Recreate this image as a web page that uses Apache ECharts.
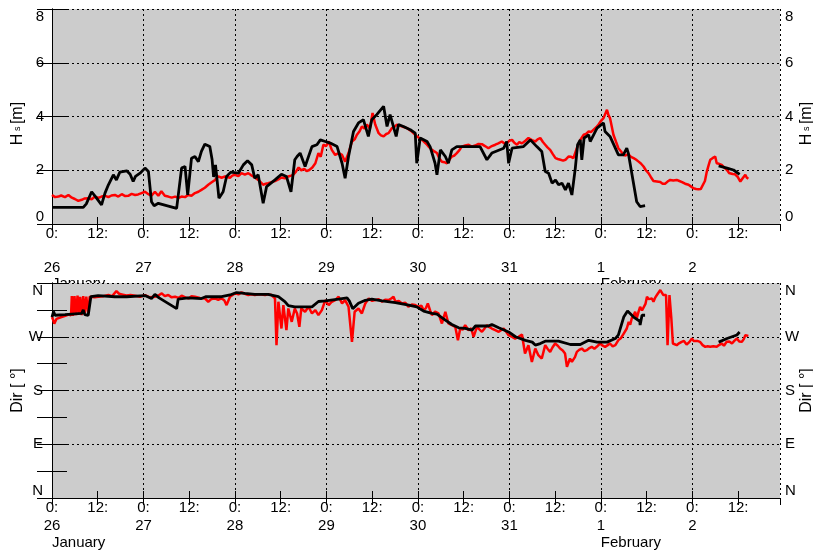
<!DOCTYPE html>
<html><head><meta charset="utf-8">
<script src="https://cdn.jsdelivr.net/npm/echarts@6/dist/echarts.min.js"></script>
<style>html,body{margin:0;padding:0;background:#fff}#c{width:813px;height:554px}</style>
</head><body><div id="c"></div>
<script>
// hours since 26 January 00:00
const dayLabels = ['26','27','28','29','30','31','1','2'];
const monthLabels = ['January','February'];
const monthStartHours = [0,144];
const dirLabels = {0:'N',90:'E',180:'S',270:'W',360:'N'};

const hsModel = [[0,1.08],[0.8,1.0],[1.7,1.02],[2.4,1.06],[3.4,1.0],[4.3,1.08],[5.2,0.98],[6.0,0.93],[6.9,0.86],[7.8,0.9],[8.6,0.95],[9.5,0.96],[10.4,0.92],[11.3,1.02],[12.2,0.97],[13.0,1.02],[14.0,1.05],[14.8,1.0],[15.6,1.06],[16.5,1.08],[17.4,1.02],[18.3,1.11],[19.2,1.04],[20.0,1.05],[20.9,1.12],[21.8,1.08],[22.6,1.1],[23.5,1.15],[24.4,1.2],[25.3,1.11],[26.1,1.05],[27.0,1.2],[27.9,1.05],[28.7,1.22],[29.6,1.05],[30.5,1.02],[31.4,0.98],[32.3,1.02],[33.2,0.97],[34.0,1.02],[34.9,1.0],[35.7,1.08],[36.6,1.05],[37.5,1.15],[38.4,1.2],[39.2,1.27],[40.1,1.35],[41.0,1.46],[41.9,1.55],[42.8,1.64],[43.6,1.77],[44.5,1.72],[45.4,1.77],[46.7,1.72],[47.3,1.8],[48.0,1.83],[48.9,1.78],[49.7,1.89],[50.6,1.84],[51.5,1.89],[52.2,1.82],[52.8,1.77],[53.5,1.7],[54.1,1.64],[54.8,1.55],[55.4,1.46],[56.1,1.5],[56.7,1.52],[57.6,1.56],[58.5,1.6],[59.4,1.66],[60.2,1.73],[61.1,1.7],[62.0,1.77],[62.7,1.8],[63.3,1.83],[64.0,1.95],[64.7,2.1],[65.4,2.0],[66.2,2.05],[66.8,1.97],[67.5,2.01],[68.3,2.1],[69.1,2.26],[69.9,2.64],[70.5,2.5],[71.2,2.95],[71.9,2.9],[72.6,3.07],[73.4,2.76],[74.3,2.57],[75.2,2.64],[76.1,2.57],[76.9,2.32],[77.8,2.64],[78.7,3.07],[79.4,3.15],[80.0,3.32],[80.7,3.45],[81.3,3.63],[82.0,3.55],[82.6,3.7],[83.4,3.55],[84.1,4.13],[84.8,3.7],[85.7,3.38],[86.3,3.3],[87.0,3.26],[87.7,3.35],[88.3,3.38],[89.2,3.57],[89.9,3.62],[90.5,3.7],[91.2,3.66],[91.8,3.63],[92.5,3.6],[93.1,3.57],[93.8,3.5],[94.4,3.44],[95.1,3.35],[95.7,3.26],[96.4,3.2],[97.1,3.13],[97.7,3.05],[98.4,2.95],[99.0,2.85],[99.7,2.76],[100.3,2.7],[101.0,2.64],[101.6,2.45],[102.3,2.32],[103.0,2.3],[103.6,2.26],[104.3,2.4],[104.9,2.51],[105.6,2.55],[106.2,2.64],[106.9,2.75],[107.5,2.88],[108.4,2.92],[109.3,2.95],[110.1,2.88],[111.0,2.92],[111.9,2.98],[112.8,2.97],[113.6,2.9],[114.5,2.82],[115.4,2.9],[116.3,2.95],[117.1,3.0],[118.0,3.07],[118.7,3.0],[119.3,3.0],[120.0,3.1],[120.7,3.13],[121.3,3.02],[122.0,2.95],[122.6,3.05],[123.3,3.0],[124.2,3.1],[125.0,3.2],[125.9,3.12],[126.8,3.07],[127.4,3.15],[128.1,3.2],[128.8,3.05],[129.4,2.95],[130.0,2.85],[130.7,2.76],[131.4,2.6],[132.1,2.45],[132.7,2.42],[133.4,2.39],[134.1,2.36],[134.7,2.39],[135.5,2.51],[136.2,2.5],[136.8,2.45],[137.7,2.82],[138.6,3.13],[139.5,3.32],[140.1,3.35],[140.8,3.44],[141.4,3.42],[142.1,3.51],[142.8,3.6],[143.4,3.7],[144.1,3.85],[144.7,3.94],[145.6,4.25],[146.0,4.05],[146.4,3.94],[146.9,3.6],[147.3,3.32],[148.0,3.05],[148.6,2.82],[149.3,2.7],[149.9,2.57],[150.5,2.55],[151.2,2.6],[151.9,2.5],[152.6,2.45],[153.2,2.4],[153.9,2.32],[154.5,2.25],[155.2,2.14],[155.8,2.0],[156.5,1.89],[157.1,1.75],[157.8,1.6],[158.7,1.58],[159.6,1.56],[160.2,1.5],[160.9,1.5],[161.5,1.58],[162.2,1.64],[163.0,1.62],[163.9,1.64],[164.6,1.6],[165.3,1.56],[166.1,1.5],[167.0,1.46],[167.6,1.4],[168.3,1.33],[169.0,1.3],[169.6,1.29],[170.2,1.3],[170.7,1.33],[171.3,1.6],[171.8,1.95],[172.3,2.2],[172.7,2.39],[173.3,2.45],[174.0,2.51],[174.4,2.26],[175.0,2.24],[175.7,2.2],[176.4,2.1],[177.1,2.01],[177.6,1.9],[178.0,1.83],[178.6,1.86],[179.2,1.85],[179.9,1.75],[180.6,1.58],[181.2,1.7],[181.9,1.83],[182.3,1.72],[182.7,1.68]];

const hsObs = [[0,0.62],[8.2,0.62],[9.0,0.75],[10.4,1.2],[11.5,1.0],[13.0,0.71],[13.9,1.15],[14.8,1.46],[16.1,1.83],[16.9,1.64],[17.8,1.93],[19.6,1.98],[20.5,1.85],[21.3,1.58],[21.9,1.77],[23.1,1.89],[24.4,2.08],[25.3,1.95],[26.1,0.83],[26.8,0.68],[27.9,0.77],[32.7,0.58],[34.0,2.08],[34.9,2.14],[35.6,1.08],[36.6,2.45],[37.5,2.51],[38.4,2.32],[39.2,2.7],[40.1,2.97],[41.4,2.88],[42.0,2.4],[42.4,1.75],[42.9,2.2],[43.8,0.96],[44.9,1.2],[45.8,1.77],[46.9,1.93],[48.9,1.89],[50.2,2.2],[51.3,2.35],[52.4,2.2],[53.2,1.7],[54.1,1.83],[55.4,0.77],[56.3,1.39],[58.5,1.64],[60.2,1.85],[61.5,1.77],[62.7,1.2],[63.2,1.2],[63.7,2.39],[64.3,2.51],[65.1,2.64],[66.4,2.14],[68.2,2.88],[69.5,2.95],[70.4,3.13],[71.7,3.07],[73.0,3.01],[74.8,2.88],[76.1,2.26],[76.9,1.7],[77.8,2.51],[79.1,3.44],[80.4,3.76],[81.7,3.88],[83.0,3.26],[83.9,3.88],[85.2,4.07],[87.0,4.38],[87.9,3.63],[88.7,4.07],[90.3,3.26],[90.9,3.7],[92.2,3.63],[94.0,3.51],[95.3,3.38],[95.7,2.26],[96.6,3.2],[98.4,3.07],[99.2,2.88],[100.5,2.26],[101.0,1.83],[101.9,2.76],[103.2,2.51],[104.0,2.26],[104.9,2.76],[106.2,2.88],[109.7,2.88],[112.3,2.88],[114.1,2.39],[115.4,2.64],[118.5,2.82],[119.3,3.07],[119.8,2.26],[120.7,2.82],[123.7,2.88],[125.5,3.13],[127.2,2.88],[128.5,2.7],[129.4,1.95],[130.3,1.89],[131.2,1.52],[132.1,1.64],[132.9,1.46],[133.8,1.52],[134.7,1.27],[135.5,1.52],[136.4,1.08],[137.3,2.08],[137.9,2.95],[138.6,3.13],[139.0,2.39],[139.6,3.2],[140.8,3.32],[141.2,3.07],[142.1,3.32],[143.0,3.57],[144.7,3.76],[145.1,3.44],[146.4,3.26],[148.6,2.57],[149.9,2.57],[150.8,2.82],[151.2,2.64],[151.7,2.57],[153.4,0.83],[154.3,0.65],[154.8,0.72],[155.6,0.68],[165,null],[174.9,2.16],[177.1,2.08],[178.8,2.01],[180.4,1.85]];

const dirModel = [[0,303],[0.3,298],[0.6,292],[1.2,300],[2.5,303],[3.5,305],[4.3,307],[5.0,306],[5.2,338],[5.5,305],[5.9,338],[6.3,306],[6.7,339],[7.1,308],[7.4,337],[7.8,306],[8.2,338],[8.6,309],[9.0,337],[9.5,310],[9.9,337],[10.4,338.7],[11.2,336],[12.1,337],[13.5,338],[14.8,339.8],[15.8,338],[16.9,346.5],[17.6,342],[18.3,341],[19.5,339],[20.6,340],[21.8,338.7],[23.1,337],[24.4,339.8],[25.7,336],[27.0,337],[27.9,339],[28.8,342.6],[29.6,338],[30.5,339.8],[31.4,336],[32.3,337],[33.2,335],[34.0,338.7],[35.0,336],[35.8,334.2],[36.6,338],[37.5,337],[38.8,335],[40.1,334.2],[41.0,328.6],[41.8,333],[42.7,334.2],[43.6,332],[44.5,334.2],[45.2,331],[45.8,323],[46.7,337],[47.4,340],[48.0,342.6],[48.9,341],[49.7,344.3],[50.6,342],[51.5,339.8],[52.3,341],[53.2,339.8],[54.5,341],[55.9,339.8],[56.8,341],[57.6,339.8],[58.5,334.2],[58.9,255.9],[59.4,328.6],[60.2,283.8],[60.7,323],[61.5,281],[62.0,317.4],[62.9,295],[63.7,317.4],[64.3,309],[64.9,286.6],[65.4,317.4],[66.4,311.8],[67.3,320.2],[68.2,309],[69.1,314.6],[69.9,306.2],[70.8,314.6],[71.7,331.4],[72.6,323],[73.4,328.6],[74.3,331.4],[75.2,337],[76.1,325.8],[76.9,331.4],[77.8,320.2],[78.7,261.5],[79.4,311.8],[80.4,317.4],[81.3,309],[82.2,325.8],[83.1,334.2],[84.0,330],[84.8,331.4],[85.7,333],[86.6,328.6],[87.4,332],[88.3,331.4],[89.0,334],[89.6,337],[90.1,328.6],[91.0,330],[91.8,325.8],[92.7,327],[93.5,320.2],[94.4,324],[95.3,323],[96.2,320.2],[96.9,322],[97.5,314.6],[98.1,318],[98.6,325.8],[99.2,314],[99.7,306.2],[100.5,312],[101.4,309],[102.3,292.2],[103.2,311.8],[104.0,292.2],[104.9,289.4],[105.8,286.6],[106.5,264.3],[107.1,283.8],[107.8,282],[108.4,289.4],[109.3,281],[110.0,284],[110.6,269.8],[111.5,286.6],[112.2,282],[112.8,278.2],[113.5,284],[114.1,289.4],[114.8,286],[115.4,283.8],[116.3,281],[117.2,278.2],[117.8,281],[118.5,283.8],[119.2,278],[119.8,272.6],[120.6,270],[121.5,267],[122.4,270],[123.3,273.8],[124.1,241.9],[125.0,255.9],[125.9,227.9],[126.8,250.3],[127.6,239.1],[128.5,233.5],[129.4,255.9],[130.0,250],[130.7,244.7],[131.3,252],[132.0,258.7],[132.7,255],[133.3,250.3],[134.0,247],[134.6,241.9],[135.1,219.5],[135.9,233.5],[136.4,228],[136.8,225.1],[137.2,236],[137.7,244.7],[138.3,248],[139.0,250.3],[139.7,246],[140.3,247.5],[141.0,251],[141.6,253.1],[142.3,250],[142.9,253.1],[143.8,258.7],[144.5,255],[145.1,253.1],[145.8,256],[146.4,258.7],[147.1,254],[147.8,255.9],[148.6,264.3],[149.3,268],[150.0,275.4],[150.8,283.8],[151.3,295],[151.7,290],[152.1,300.6],[152.6,306],[153.0,311.8],[153.4,300.6],[153.9,312],[154.3,320.2],[154.8,314],[155.2,311.8],[155.7,325],[156.1,337],[156.5,333],[156.9,331.4],[157.4,334],[157.8,328.6],[158.3,336],[158.7,339.8],[159.2,342],[159.6,348.2],[160.0,344],[160.4,339.8],[160.9,342.6],[161.1,339.8],[161.5,255.9],[162.0,339.8],[162.5,300],[162.9,258.7],[163.4,262],[163.9,255.9],[164.5,259],[165.2,261.5],[165.8,263],[166.5,257],[167.2,261],[167.9,267],[168.3,263],[168.7,261.5],[169.3,263],[170.0,261.5],[170.7,256],[171.4,253.1],[172.0,254],[172.7,253.1],[173.5,254],[174.4,253.1],[175.0,256],[175.7,258.7],[176.3,255],[177.0,261.5],[177.7,262],[178.4,258.7],[179.0,263],[179.7,267],[180.3,262],[181.0,261.5],[181.5,266],[181.9,272.6],[182.3,270],[182.7,271.5]];

const dirObs = [[0,303],[0.4,312],[0.8,306],[3.4,307],[7.8,309],[8.2,315],[8.6,307],[9.5,306],[10.2,337],[12.1,339],[16.5,337],[19.6,337],[24.4,339],[26.1,334],[27.0,341],[28.1,335],[32.7,317],[33.1,333],[35.7,335],[39.2,334],[40.3,337],[44.5,337],[45.0,335],[46.7,340],[48.4,344],[50.6,342.5],[53.2,341],[56.7,341],[59.4,337],[61.1,329],[62.0,322],[63.7,320],[68.2,320],[69.9,329],[71.7,330],[75.2,333],[77.4,335],[78.0,330],[78.9,317],[80.4,326],[82.2,331],[83.9,333],[86.6,330],[90.1,327],[93.6,323],[95.7,320],[97.5,313],[99.7,309],[101.0,308],[103.2,298],[104.9,290.5],[106.7,285],[108.4,284],[110.2,281],[111.1,288],[114.5,288],[115.4,290.5],[117.2,285],[119.8,278],[121.6,270],[124.2,264],[126.0,261],[126.8,256],[128.1,258.6],[129.4,262.6],[132.9,262.6],[136.0,257],[138.6,257],[140.8,264],[143.0,261],[145.6,261],[147.8,267],[148.6,273],[150.0,303],[151.0,313],[152.6,303],[154.2,296],[154.3,289.5],[154.8,306],[155.6,306],[165,null],[174.9,261],[177.1,267],[179.7,273],[180.4,278]];

const FONT = 'Liberation Sans, Arial, Helvetica, sans-serif';
const X_MAX = 191;
const gridLine = {show:true, lineStyle:{color:'#000', width:1, type:[2,3]}};
const blackLine = {show:true, lineStyle:{color:'#000', width:1}};

function xAxes(gi, labelFmt, lh, monthMargin, monthZ) {
  const base = {gridIndex:gi, type:'value', min:0, max:X_MAX, interval:12};
  return [
    Object.assign({}, base, {position:'bottom', axisLine:blackLine,
      axisTick:{show:true, inside:true, length:7, lineStyle:{color:'#000'}},
      axisLabel:{show:true, color:'#000', fontSize:15, fontFamily:FONT, margin:1, lineHeight:lh,
        showMinLabel:true, showMaxLabel:false, formatter:labelFmt},
      splitLine:{show:false}}),
    Object.assign({}, base, {position:'top', axisLine:blackLine,
      axisTick:{show:true, inside:true, length:7, lineStyle:{color:'#000'}},
      axisLabel:{show:false}, splitLine:{show:false}}),
    Object.assign({}, base, {interval:24, position:'bottom', axisLine:{show:false}, axisTick:{show:false},
      axisLabel:{show:false}, splitLine:gridLine}),
    Object.assign({}, base, {position:'bottom', z:monthZ, axisLine:{show:false}, axisTick:{show:false},
      axisLabel:{show:true, customValues:monthStartHours, color:'#000', fontSize:15, fontFamily:FONT,
        margin:monthMargin, align:'left', formatter:(v)=>monthLabels[monthStartHours.indexOf(v)]},
      splitLine:{show:false}})
  ];
}
const topFmt = (v)=> (v % 12 !== 0 ? '' : (v % 24 === 0 ? '0:\n\n' + dayLabels[v/24] : '12:'));
const botFmt = (v)=> (v % 12 !== 0 ? '' : (v % 24 === 0 ? '0:\n' + dayLabels[v/24] : '12:'));

function yAxis(gi, pos, extra) {
  return Object.assign({gridIndex:gi, type:'value', position:pos, axisLine:blackLine,
    axisTick:{show:true, inside:true, length:15, lineStyle:{color:'#000'}},
    nameLocation:'middle', nameRotate:90, nameMoveOverlap:false,
    nameTextStyle:{color:'#000', fontSize:16, fontFamily:FONT}}, extra);
}
const hsName = '{n|H}{s| s }{n|[m]}';
const hsRich = {n:{fontSize:16, fontFamily:FONT, color:'#000'}, s:{fontSize:9, fontFamily:FONT, color:'#000'}};
const dirName = 'Dir [ °]';

const option = {
  animation:false,
  backgroundColor:'#fff',
  grid:[
    {left:52, right:33, top:9, height:215, show:true, backgroundColor:'#cccccc', borderWidth:0, z:0, containLabel:false, outerBoundsMode:'none'},
    {left:52, right:33, top:283, height:215, show:true, backgroundColor:'#cccccc', borderWidth:0, z:0, containLabel:false, outerBoundsMode:'none'}
  ],
  xAxis: [].concat(xAxes(0, topFmt, 17, 52, -1), xAxes(1, botFmt, 18, 37, 0)),
  yAxis: [
    yAxis(0,'left',{min:0,max:8,interval:2, splitLine:gridLine,
      axisLabel:{color:'#000', fontSize:15, fontFamily:FONT, margin:8, verticalAlignMinLabel:'bottom', verticalAlignMaxLabel:'top'},
      name:hsName, nameGap:26, nameTextStyle:{rich:hsRich, padding:[0,14,0,0]}}),
    yAxis(0,'right',{min:0,max:8,interval:2, splitLine:{show:false},
      axisLabel:{color:'#000', fontSize:15, fontFamily:FONT, margin:5, verticalAlignMinLabel:'bottom', verticalAlignMaxLabel:'top'},
      name:hsName, nameGap:19, nameTextStyle:{rich:hsRich, padding:[0,14,0,0]}}),
    yAxis(1,'left',{min:0,max:360,interval:90, splitLine:gridLine,
      minorTick:{show:true, splitNumber:2, length:15, lineStyle:{color:'#000'}},
      axisLabel:{color:'#000', fontSize:15, fontFamily:FONT, margin:9, verticalAlignMinLabel:'bottom', verticalAlignMaxLabel:'top',
        formatter:(v)=>dirLabels[v]},
      name:dirName, nameGap:26}),
    yAxis(1,'right',{min:0,max:360,interval:90, splitLine:{show:false},
      minorTick:{show:true, splitNumber:2, length:15, lineStyle:{color:'#000'}},
      axisLabel:{color:'#000', fontSize:15, fontFamily:FONT, margin:5, verticalAlignMinLabel:'bottom', verticalAlignMaxLabel:'top',
        formatter:(v)=>dirLabels[v]},
      name:dirName, nameGap:19})
  ],
  series:[
    {type:'line', xAxisIndex:0, yAxisIndex:0, data:hsModel, showSymbol:false, symbol:'none', lineStyle:{color:'#ff0000', width:2.5}, z:2},
    {type:'line', xAxisIndex:0, yAxisIndex:0, data:hsObs, showSymbol:false, symbol:'none', connectNulls:false, lineStyle:{color:'#000', width:2.8}, z:3},
    {type:'line', xAxisIndex:4, yAxisIndex:2, data:dirModel, showSymbol:false, symbol:'none', lineStyle:{color:'#ff0000', width:2.5}, z:2},
    {type:'line', xAxisIndex:4, yAxisIndex:2, data:dirObs, showSymbol:false, symbol:'none', connectNulls:false, lineStyle:{color:'#000', width:2.8}, z:3}
  ]
};
const chart = echarts.init(document.getElementById('c'), null, {renderer:'canvas'});
chart.setOption(option);
</script>
</body></html>
